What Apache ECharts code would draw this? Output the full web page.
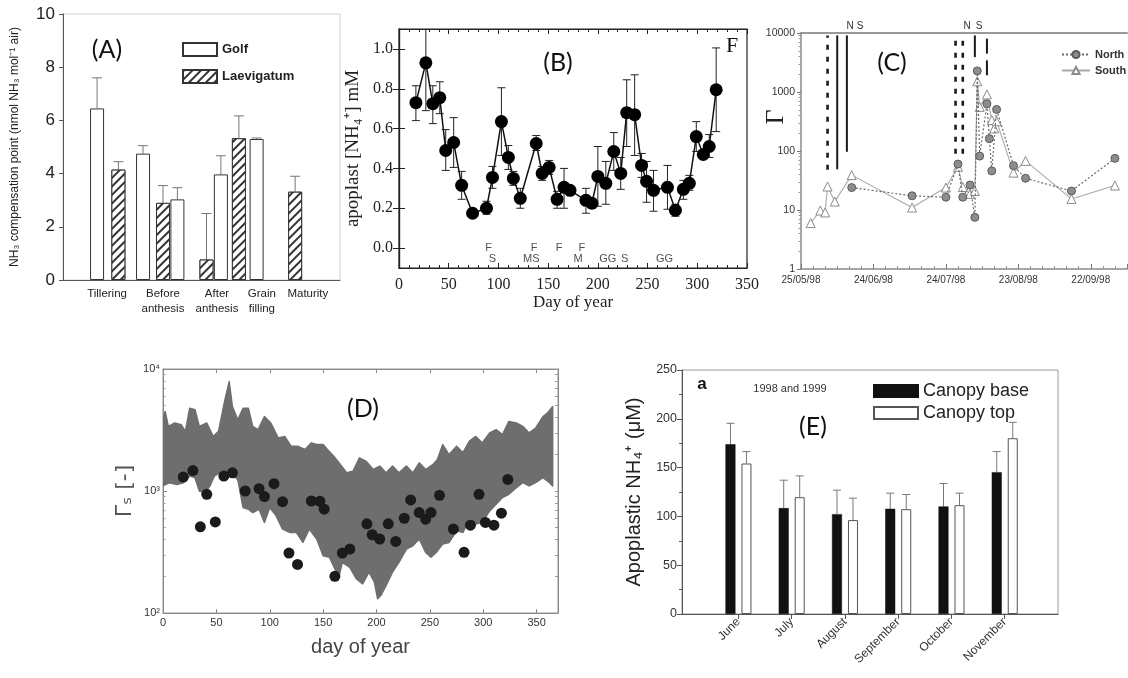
<!DOCTYPE html>
<html><head><meta charset="utf-8">
<script src="https://cdn.jsdelivr.net/npm/echarts@6/dist/echarts.min.js"></script>
<style>html,body{margin:0;padding:0;background:#fff}#c{width:1128px;height:678px}</style>
</head><body><div id="c"></div>
<script>
// ---------- Panel A ----------
const stageLabels = ['Tillering', 'Before\nanthesis', 'After\nanthesis', 'Grain\nfilling', 'Maturity'];
const stageLabelPos = [15.9, 36.1, 55.6, 71.8, 88.4];
const golfPos = [12.3, 28.9, 41.3, 57.0, 69.9];
const golfVal = [6.45, 4.75, 3.03, 3.97, 5.30];
const golfTop = [7.6, 5.05, 3.47, 4.67, 5.34];
const laevPos = [20.0, 36.1, 51.8, 63.5, 83.8];
const laevVal = [4.15, 2.90, 0.77, 5.33, 3.32];
const laevTop = [4.45, 3.55, 2.5, 6.17, 3.9];

// ---------- Panel B ----------
const bDay = [17,27,34,41,47,55,63,74,88,94,103,110,115,122,138,144,151,159,166,172,188,194,200,208,216,223,229,237,244,249,256,270,278,286,292,299,306,312,319];
const bVal = [0.73,0.93,0.725,0.755,0.49,0.53,0.315,0.175,0.20,0.355,0.635,0.455,0.35,0.25,0.525,0.375,0.405,0.245,0.305,0.29,0.24,0.225,0.36,0.325,0.485,0.375,0.68,0.67,0.415,0.335,0.29,0.305,0.19,0.295,0.325,0.56,0.47,0.51,0.795];
const bLo = [0.64,0.69,0.625,0.675,0.39,0.405,0.245,0.165,0.17,0.30,0.465,0.395,0.315,0.20,0.49,0.34,0.37,0.20,0.20,0.275,0.175,0.20,0.21,0.22,0.39,0.295,0.51,0.465,0.355,0.23,0.185,0.195,0.16,0.245,0.29,0.485,0.45,0.455,0.585];
const bHi = [0.815,1.12,0.815,0.835,0.595,0.655,0.385,0.185,0.235,0.41,0.805,0.515,0.385,0.30,0.565,0.41,0.44,0.285,0.40,0.305,0.30,0.24,0.51,0.435,0.58,0.455,0.845,0.87,0.475,0.435,0.39,0.415,0.22,0.34,0.365,0.635,0.49,0.57,1.005];
const bNoteText = ['F','S','F','MS','F','F','M','GG','S','GG'];
const bNoteDay = [90,94,136,133,161,184,180,210,227,267];
const bNoteY = [0,-0.055,0,-0.055,0,0,-0.055,-0.055,-0.055,-0.055];
const bYTicks = [0,0.2,0.4,0.6,0.8,1.0];

// ---------- Panel C ----------
const cStart = '1998-05-25';
const cNorthDate = ['1998-06-15','1998-07-10','1998-07-24','1998-07-29','1998-07-31','1998-08-03','1998-08-05','1998-08-06','1998-08-07','1998-08-10','1998-08-11','1998-08-12','1998-08-14','1998-08-21','1998-08-26','1998-09-14','1998-10-02'];
const cNorthVal = [24,17.4,16.5,60,16.5,26.5,7.5,2280,82,630,162,46,506,56.5,34.5,21,75];
const cSouthDate = ['1998-05-29','1998-06-02','1998-06-04','1998-06-05','1998-06-08','1998-06-15','1998-07-10','1998-07-24','1998-07-29','1998-07-31','1998-08-03','1998-08-05','1998-08-06','1998-08-07','1998-08-10','1998-08-12','1998-08-13','1998-08-14','1998-08-21','1998-08-26','1998-09-14','1998-10-02'];
const cSouthVal = [6.0,9.8,9.1,25,13.9,39,11,24,54,24.5,18.8,21,1520,560,910,334,241,320,43,68,15.4,26];
const cDottedMarks = [['1998-06-05',48,9100],['1998-07-28',90,7700],['1998-07-31',90,7700]];
const cSolidMarks = [['1998-06-09',49,9100],['1998-06-13',97,9100],['1998-08-05',3900,9100],['1998-08-10',4470,8020],['1998-08-10',1920,3440]];
const logMinor = [2,3,4,5,6,7,8,9,20,30,40,50,60,70,80,90,200,300,400,500,600,700,800,900,2000,3000,4000,5000,6000,7000,8000,9000];

// ---------- Panel D ----------
const dDay = [19,28,35,41,49,57,65,77,90,95,104,112,118,126,139,147,151,161,168,175,191,196,203,211,218,226,232,240,246,251,259,272,282,288,296,302,310,317,323];
const dVal = [1300,1470,509,940,558,1325,1410,1000,1045,900,1148,818,310,250,828,824,709,200,310,334,538,438,404,538,386,598,845,665,587,665,922,488,314,525,940,552,525,658,1245];
const dUpDay = [0,2,5,11,17,21,25,30,34,41,47,52,58,62,65,70,75,80,84,89,95,101,108,114,120,126,133,139,145,150,154,160,165,172,178,184,190,197,203,209,215,221,228,234,240,246,253,257,262,268,275,281,287,293,299,306,312,318,324,331,337,343,349,356,360,365];
const dUp = [3840,4490,3390,3610,3490,3080,4770,4630,3390,3610,2800,3080,5580,7890,4930,3840,4770,4770,3390,3180,4080,3610,2720,2800,2330,2330,2190,2480,2400,2400,2190,1930,1700,1410,1455,1870,1760,1500,1600,1410,1600,1410,1600,1410,1700,1500,1650,1810,2400,1990,2330,2060,2560,2800,2480,2990,3180,2900,3720,3610,3390,2990,3280,4080,4350,4930];
const dLoDay = [0,6,13,19,25,30,34,39,44,48,53,59,66,70,75,80,84,90,95,100,106,112,119,125,131,137,144,150,156,161,165,168,175,181,187,193,198,201,204,209,215,221,228,234,240,246,251,256,262,268,275,281,287,293,299,306,312,318,324,331,337,343,349,356,362,365];
const dLo = [1100,1170,1130,1170,1325,1285,1000,970,1100,1325,1410,1455,1325,1245,731,709,666,709,552,731,625,487,457,457,379,487,404,295,286,230,203,260,237,191,173,216,179,131,139,168,216,260,334,356,404,314,286,314,367,379,472,457,587,535,552,687,778,883,940,1065,1170,1100,1170,1285,1170,1100];
const dLogLabels = {100:'10²', 1000:'10³', 10000:'10⁴'};

// ---------- Panel E ----------
const months = ['June','July','August','September','October','November'];
const baseVal = [173.9,108.5,102.3,107.8,110.2,145.3];
const baseTop = [195.4,137.1,126.9,123.8,133.7,166.4];
const topVal = [154.2,119.7,96.2,107.4,111.5,180.1];
const topTop = [166.4,141.5,118.7,122.4,123.8,196.4];

// ---------- helpers ----------
const DAY = 86400000;
const dayOf = s => (Date.parse(s) - Date.parse(cStart)) / DAY;
const pad = n => (n < 10 ? '0' : '') + n;
const dateLabel = v => { const d = new Date(Date.parse(cStart) + v * DAY); return pad(d.getUTCDate()) + '/' + pad(d.getUTCMonth() + 1) + '/' + String(d.getUTCFullYear()).slice(2); };
const nearestIdx = (arr, v) => { let b = 0; arr.forEach((a, i) => { if (Math.abs(a - v) < Math.abs(arr[b] - v)) b = i; }); return b; };

function upErr(xi, yi, xs, vals, tops, dx, color, cap) {
  return {
    type: 'custom', xAxisIndex: xi, yAxisIndex: yi, z: 1, silent: true, clip: true,
    data: xs.map((x, i) => [x, vals[i], tops[i]]),
    renderItem: (p, api) => {
      const a = api.coord([api.value(0), api.value(1)]), b = api.coord([api.value(0), api.value(2)]);
      const x = a[0] + dx;
      return { type: 'group', children: [
        { type: 'line', shape: { x1: x, y1: a[1], x2: x, y2: b[1] }, style: { stroke: color, lineWidth: 1 } },
        { type: 'line', shape: { x1: x - cap, y1: b[1], x2: x + cap, y2: b[1] }, style: { stroke: color, lineWidth: 1 } }
      ]};
    }
  };
}
function vMarks(list, dashed) {
  return {
    type: 'custom', xAxisIndex: 3, yAxisIndex: 3, z: 1, silent: true,
    data: list.map(m => [dayOf(m[0]), m[1], m[2]]),
    renderItem: (p, api) => {
      const a = api.coord([api.value(0), api.value(1)]), b = api.coord([api.value(0), api.value(2)]);
      return { type: 'line', shape: { x1: a[0], y1: a[1], x2: b[0], y2: b[1] },
        style: { stroke: '#1a1a1a', lineWidth: dashed ? 2.6 : 2, lineDash: dashed ? [5, 7] : null } };
    }
  };
}

const serif = 'Liberation Serif';
const sans = 'Liberation Sans';

const option = {
  animation: false,
  textStyle: { fontFamily: sans },
  grid: [
    { left: 63, top: 14, width: 277, height: 266, show: true, borderColor: '#cfcfcf', borderWidth: 1 },
    { left: 399, top: 29, width: 348, height: 239, show: true, borderColor: '#222', borderWidth: 1.2 },
    { left: 801, top: 33, width: 326, height: 236 },
    { left: 163, top: 369, width: 395, height: 244, show: true, borderColor: '#999', borderWidth: 1 },
    { left: 682, top: 370, width: 376, height: 244, show: true, borderColor: '#999', borderWidth: 1 }
  ],
  legend: [
    { data: ['Golf', 'Laevigatum'], left: 177, top: 37, orient: 'vertical', icon: 'rect', itemWidth: 34, itemHeight: 13, itemGap: 12, selectedMode: false,
      textStyle: { fontSize: 13, fontWeight: 'bold', color: '#222', fontFamily: sans } },
    { data: ['North', 'South'], left: 1056, top: 44, orient: 'vertical', itemWidth: 28, itemHeight: 9, itemGap: 5, selectedMode: false,
      textStyle: { fontSize: 11, fontWeight: 'bold', color: '#333', fontFamily: sans } },
    { data: ['Canopy base', 'Canopy top'], left: 868, top: 377, orient: 'vertical', icon: 'rect', itemWidth: 44, itemHeight: 12, itemGap: 4, selectedMode: false,
      textStyle: { fontSize: 18, color: '#222', fontFamily: sans } }
  ],
  xAxis: [
    { gridIndex: 0, type: 'value', min: 0, max: 100, splitLine: { show: false },
      axisLine: { lineStyle: { color: '#555' } }, axisTick: { show: false },
      axisLabel: { customValues: stageLabelPos, formatter: v => stageLabels[nearestIdx(stageLabelPos, v)], fontSize: 11.5, lineHeight: 15, color: '#222', margin: 6 } },
    { gridIndex: 1, type: 'value', min: 0, max: 350, interval: 50, splitLine: { show: false },
      axisLine: { onZero: false, lineStyle: { color: '#222', width: 1.2 } }, axisTick: { inside: true, length: 5, lineStyle: { color: '#222' } },
      minorTick: { show: true, splitNumber: 5, length: 3, lineStyle: { color: '#222' } },
      axisLabel: { fontFamily: serif, fontSize: 16, color: '#222', margin: 9 },
      name: 'Day of year', nameLocation: 'middle', nameGap: 25, nameTextStyle: { fontFamily: serif, fontSize: 17, color: '#222' } },
    { gridIndex: 1, type: 'value', position: 'top', min: 0, max: 350, interval: 50, splitLine: { show: false },
      axisLine: { onZero: false, lineStyle: { color: '#222', width: 1.2 } }, axisTick: { inside: true, length: 5, lineStyle: { color: '#222' } },
      minorTick: { show: true, splitNumber: 5, length: 3, lineStyle: { color: '#222' } }, axisLabel: { show: false } },
    { gridIndex: 2, type: 'value', min: 0, max: 135, interval: 30, splitLine: { show: false },
      axisLine: { lineStyle: { color: '#8a8a8a', width: 1.5 } }, axisTick: { inside: true, length: 5, lineStyle: { color: '#777' } },
      minorTick: { show: true, splitNumber: 6, length: 3, lineStyle: { color: '#999' } },
      axisLabel: { formatter: dateLabel, fontSize: 10, color: '#333', margin: 6 } },
    { gridIndex: 2, type: 'value', position: 'top', min: 0, max: 135, splitLine: { show: false },
      axisLine: { lineStyle: { color: '#999', width: 2 } }, axisTick: { show: false }, axisLabel: { show: false } },
    { gridIndex: 3, type: 'value', min: 0, max: 370, interval: 50, splitLine: { show: false },
      axisLine: { lineStyle: { color: '#888' } }, axisTick: { inside: true, length: 4, lineStyle: { color: '#888' } },
      axisLabel: { fontSize: 11, color: '#333', margin: 4, showMaxLabel: false },
      name: 'day of year', nameLocation: 'middle', nameGap: 24, nameTextStyle: { fontSize: 20, color: '#444' } },
    { gridIndex: 3, type: 'value', position: 'top', min: 0, max: 370, interval: 50, splitLine: { show: false },
      axisLine: { lineStyle: { color: '#888' } }, axisTick: { inside: true, length: 4, lineStyle: { color: '#888' } }, axisLabel: { show: false } },
    { gridIndex: 4, type: 'value', min: -0.06, max: 7, splitLine: { show: false },
      axisLine: { lineStyle: { color: '#555' } },
      axisTick: { customValues: [1, 2, 3, 4, 5, 6], length: 5, lineStyle: { color: '#555' } },
      axisLabel: { customValues: [1, 2, 3, 4, 5, 6], formatter: v => months[Math.round(v) - 1], rotate: 45, fontSize: 12, color: '#333', margin: 6 } }
  ],
  yAxis: [
    { gridIndex: 0, type: 'value', min: 0, max: 10, interval: 2, splitLine: { show: false },
      axisLine: { show: true, lineStyle: { color: '#555' } }, axisTick: { show: true, length: 4, lineStyle: { color: '#555' } },
      axisLabel: { fontSize: 17, color: '#222', margin: 8 },
      name: 'NH₃ compensation point (nmol NH₃ mol⁻¹ air)', nameLocation: 'middle', nameGap: 42, nameTextStyle: { fontSize: 12, color: '#222' } },
    { gridIndex: 1, type: 'value', min: -0.1, max: 1.1, splitLine: { show: false },
      axisLine: { show: true, lineStyle: { color: '#222', width: 1.2 } },
      axisTick: { customValues: bYTicks, inside: true, length: 6, lineStyle: { color: '#222' } },
      axisLabel: { customValues: bYTicks, formatter: v => v.toFixed(1), fontFamily: serif, fontSize: 16, color: '#222', margin: 6 },
      name: 'apoplast [NH₄⁺] mM', nameLocation: 'middle', nameGap: 36, nameTextStyle: { fontFamily: serif, fontSize: 19, color: '#222' } },
    { gridIndex: 1, type: 'value', position: 'right', min: -0.1, max: 1.1, splitLine: { show: false },
      axisLine: { show: true, lineStyle: { color: '#222', width: 1.2 } },
      axisTick: { customValues: bYTicks, inside: true, length: 6, lineStyle: { color: '#222' } }, axisLabel: { show: false } },
    { gridIndex: 2, type: 'log', logBase: 10, min: 1, max: 10000, splitLine: { show: false },
      axisLine: { show: true, lineStyle: { color: '#8a8a8a', width: 1.5 } }, axisTick: { length: 4, lineStyle: { color: '#777' } },
      axisLabel: { formatter: v => String(v), fontSize: 10.5, color: '#333', margin: 6 } },
    { gridIndex: 2, type: 'log', logBase: 10, min: 1, max: 10000, position: 'left', splitLine: { show: false },
      axisLine: { show: false }, axisTick: { customValues: logMinor, length: 2.5, lineStyle: { color: '#999' } }, axisLabel: { show: false } },
    { gridIndex: 3, type: 'log', logBase: 10, min: 100, max: 10000, splitLine: { show: false },
      axisLine: { show: true, lineStyle: { color: '#888' } }, axisTick: { inside: true, length: 4, lineStyle: { color: '#888' } },
      axisLabel: { formatter: v => dLogLabels[Math.round(v)] || '', fontSize: 11, color: '#333', margin: 3 },
      name: 'Γₛ [-]', nameLocation: 'middle', nameGap: 27, nameTextStyle: { fontSize: 22, color: '#555', fontFamily: 'DejaVu Sans' } },
    { gridIndex: 3, type: 'log', logBase: 10, min: 100, max: 10000, position: 'left', splitLine: { show: false },
      axisLine: { show: false }, axisTick: { customValues: logMinor.filter(v => v > 100), inside: true, length: 2.5, lineStyle: { color: '#999' } }, axisLabel: { show: false } },
    { gridIndex: 3, type: 'log', logBase: 10, min: 100, max: 10000, position: 'right', splitLine: { show: false },
      axisLine: { show: true, lineStyle: { color: '#888' } }, axisTick: { customValues: logMinor.filter(v => v > 100).concat([1000, 10000]), inside: true, length: 3, lineStyle: { color: '#999' } }, axisLabel: { show: false } },
    { gridIndex: 4, type: 'value', min: 0, max: 250, interval: 50, splitLine: { show: false },
      axisLine: { show: true, onZero: false, lineStyle: { color: '#555' } }, axisTick: { length: 5, lineStyle: { color: '#555' } },
      minorTick: { show: true, splitNumber: 2, length: 3, lineStyle: { color: '#555' } },
      axisLabel: { fontSize: 12.5, color: '#333', margin: 5 },
      name: 'Apoplastic NH₄⁺ (μM)', nameLocation: 'middle', nameGap: 38, nameTextStyle: { fontSize: 20, color: '#222' } }
  ],
  graphic: [
    { type: 'text', x: 107, y: 50, style: { text: '(A)', fontSize: 25, fontFamily: 'Lato', fill: '#111', align: 'center', verticalAlign: 'middle' } },
    { type: 'text', x: 558, y: 63, style: { text: '(B)', fontSize: 25, fontFamily: 'Lato', fill: '#111', align: 'center', verticalAlign: 'middle' } },
    { type: 'text', x: 892, y: 63, style: { text: '(C)', fontSize: 25, fontFamily: 'Lato', fill: '#111', align: 'center', verticalAlign: 'middle' } },
    { type: 'text', x: 363, y: 409, style: { text: '(D)', fontSize: 25, fontFamily: 'Lato', fill: '#111', align: 'center', verticalAlign: 'middle' } },
    { type: 'text', x: 813, y: 427, style: { text: '(E)', fontSize: 25, fontFamily: 'Lato', fill: '#111', align: 'center', verticalAlign: 'middle' } },
    { type: 'text', x: 776, y: 117, rotation: Math.PI / 2, style: { text: 'Γ', fontSize: 26, fontFamily: serif, fill: '#222', align: 'center', verticalAlign: 'middle' } },
    { type: 'text', x: 850, y: 26, style: { text: 'N', fontSize: 10, fill: '#333', align: 'center', verticalAlign: 'middle' } },
    { type: 'text', x: 860, y: 26, style: { text: 'S', fontSize: 10, fill: '#333', align: 'center', verticalAlign: 'middle' } },
    { type: 'text', x: 967, y: 26, style: { text: 'N', fontSize: 10, fill: '#333', align: 'center', verticalAlign: 'middle' } },
    { type: 'text', x: 979, y: 26, style: { text: 'S', fontSize: 10, fill: '#333', align: 'center', verticalAlign: 'middle' } },
    { type: 'text', x: 732, y: 46, style: { text: 'F', fontSize: 22, fontFamily: serif, fill: '#111', align: 'center', verticalAlign: 'middle' } },
    { type: 'text', x: 702, y: 384, style: { text: 'a', fontSize: 17, fontWeight: 'bold', fill: '#111', align: 'center', verticalAlign: 'middle' } },
    { type: 'text', x: 790, y: 389, style: { text: '1998 and 1999', fontSize: 11, fill: '#333', align: 'center', verticalAlign: 'middle' } }
  ],
  series: [
    // A
    { type: 'bar', name: 'Golf', xAxisIndex: 0, yAxisIndex: 0, barWidth: 14, barGap: '-100%', z: 2,
      data: golfPos.map((p, i) => [p, golfVal[i]]),
      itemStyle: { color: '#fff', borderColor: '#333', borderWidth: 1 } },
    { type: 'bar', name: 'Laevigatum', xAxisIndex: 0, yAxisIndex: 0, barWidth: 14, barGap: '-100%', z: 2,
      data: laevPos.map((p, i) => [p, laevVal[i]]),
      itemStyle: { color: '#fff', borderColor: '#333', borderWidth: 1,
        decal: { symbol: 'rect', symbolSize: 1, dashArrayX: [1, 0], dashArrayY: [1.3, 3.2], rotation: -Math.PI / 4, color: '#333', backgroundColor: '#fff' } } },
    upErr(0, 0, golfPos, golfVal, golfTop, 0, '#777', 5),
    upErr(0, 0, laevPos, laevVal, laevTop, 0, '#777', 5),
    // B
    { type: 'custom', xAxisIndex: 1, yAxisIndex: 1, z: 1, silent: true, clip: true,
      data: bDay.map((d, i) => [d, bLo[i], bHi[i]]),
      renderItem: (p, api) => {
        const a = api.coord([api.value(0), api.value(1)]), b = api.coord([api.value(0), api.value(2)]);
        const s = { stroke: '#222', lineWidth: 1 };
        return { type: 'group', children: [
          { type: 'line', shape: { x1: a[0], y1: a[1], x2: b[0], y2: b[1] }, style: s },
          { type: 'line', shape: { x1: a[0] - 4, y1: a[1], x2: a[0] + 4, y2: a[1] }, style: s },
          { type: 'line', shape: { x1: b[0] - 4, y1: b[1], x2: b[0] + 4, y2: b[1] }, style: s }
        ]};
      } },
    { type: 'line', xAxisIndex: 1, yAxisIndex: 1, z: 3, data: bDay.map((d, i) => [d, bVal[i]]),
      symbol: 'circle', symbolSize: 13, itemStyle: { color: '#000' }, lineStyle: { color: '#111', width: 1.5 } },
    { type: 'scatter', xAxisIndex: 1, yAxisIndex: 1, symbolSize: 0, silent: true,
      data: bNoteText.map((t, i) => ({ name: t, value: [bNoteDay[i], bNoteY[i]] })),
      label: { show: true, position: 'inside', formatter: '{b}', fontSize: 11, color: '#222' } },
    // C
    vMarks(cDottedMarks, true),
    vMarks(cSolidMarks, false),
    { type: 'line', name: 'South', xAxisIndex: 3, yAxisIndex: 3, z: 3,
      data: cSouthDate.map((d, i) => [dayOf(d), cSouthVal[i]]),
      symbol: 'triangle', symbolSize: 9, itemStyle: { color: '#fff', borderColor: '#8a8a8a', borderWidth: 1 },
      lineStyle: { color: '#a8a8a8', width: 1.1 } },
    { type: 'line', name: 'North', xAxisIndex: 3, yAxisIndex: 3, z: 4,
      data: cNorthDate.map((d, i) => [dayOf(d), cNorthVal[i]]),
      symbol: 'circle', symbolSize: 8, itemStyle: { color: '#8d8d8d', borderColor: '#5a5a5a', borderWidth: 1 },
      lineStyle: { color: '#6a6a6a', width: 1.2, type: [2, 2] } },
    // D
    { type: 'custom', xAxisIndex: 5, yAxisIndex: 5, z: 1, silent: true, clip: true,
      data: [[0, 1000]],
      renderItem: (p, api) => {
        const pts = [];
        dUpDay.forEach((d, i) => pts.push(api.coord([d, dUp[i]])));
        for (let i = dLoDay.length - 1; i >= 0; i--) pts.push(api.coord([dLoDay[i], dLo[i]]));
        return { type: 'polygon', shape: { points: pts }, style: { fill: '#6e6e6e', stroke: '#6e6e6e', lineWidth: 1.5, lineJoin: 'round' } };
      } },
    { type: 'scatter', xAxisIndex: 5, yAxisIndex: 5, z: 3, data: dDay.map((d, i) => [d, dVal[i]]),
      symbol: 'circle', symbolSize: 11, itemStyle: { color: '#1b1b1b', opacity: 1 } },
    // E
    { type: 'bar', name: 'Canopy base', xAxisIndex: 7, yAxisIndex: 8, barWidth: 10, barGap: '60%', z: 2,
      data: months.map((m, i) => [i + 1, baseVal[i]]), itemStyle: { color: '#111', borderColor: '#111', borderWidth: 0.5 } },
    { type: 'bar', name: 'Canopy top', xAxisIndex: 7, yAxisIndex: 8, barWidth: 10, barGap: '60%', z: 2,
      data: months.map((m, i) => [i + 1, topVal[i]]), itemStyle: { color: '#fff', borderColor: '#555', borderWidth: 1 } },
    upErr(7, 8, months.map((m, i) => i + 1), baseVal, baseTop, -8, '#777', 4),
    upErr(7, 8, months.map((m, i) => i + 1), topVal, topTop, 8, '#777', 4)
  ]
};

const chart = echarts.init(document.getElementById('c'), null, { renderer: 'canvas' });
chart.setOption(option);
</script>
</body></html>
